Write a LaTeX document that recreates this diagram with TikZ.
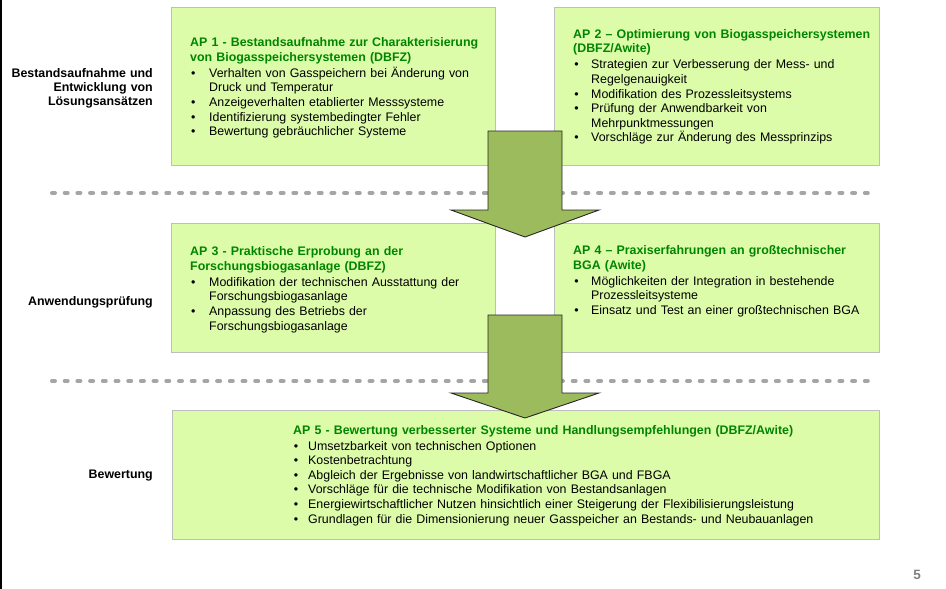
\documentclass[tikz,border=0pt]{standalone}
\usepackage{fontspec}
\setmainfont{Liberation Sans}
\usepackage{xcolor}
\usepackage{tikz}
\usetikzlibrary{positioning}

\definecolor{boxfill}{RGB}{221,252,170}
\definecolor{boxline}{RGB}{190,190,190}
\definecolor{titlegreen}{RGB}{0,133,0}
\definecolor{arrowfill}{RGB}{156,187,92}
\definecolor{dashgray}{RGB}{165,165,165}
\definecolor{pagegray}{RGB}{128,128,128}

\newcommand{\aptitle}[1]{{\bfseries\color{titlegreen}#1\par}}
\newenvironment{apitems}[2]{\begin{list}{\textbullet}{\setlength{\leftmargin}{#1}\setlength{\labelwidth}{5pt}\setlength{\labelsep}{#2}\setlength{\itemsep}{0pt}\setlength{\parsep}{0pt}\setlength{\topsep}{1.5pt}\setlength{\partopsep}{0pt}}}{\end{list}}

\begin{document}
\begin{tikzpicture}[x=1pt, y=-1pt,
    every node/.style={font=\fontsize{12.4}{14.6}\selectfont},
    apbox/.style={draw=boxline, fill=boxfill, line width=1pt, rectangle, anchor=north west, inner sep=0pt},
    aptext/.style={anchor=base west, inner sep=0pt, text width=#1, align=left},
    phase/.style={font=\fontsize{12.4}{14.3}\selectfont\bfseries, anchor=base east, inner sep=0pt, text width=150, align=right},
    sepline/.style={draw=dashgray, line width=4pt, line cap=round, dash pattern=on 3pt off 9.7pt},
    bigarrow/.style={draw=black!85, fill=arrowfill, line width=0.9pt, line join=miter}]
    \useasboundingbox (0,0) rectangle (946,589);
    \draw [line width=1.5pt] (1,0) -- (1,589);

    % work packages
    \node [apbox, minimum width=324, minimum height=158] (ap1) at (171,7) {};
    \node [apbox, minimum width=325, minimum height=158] (ap2) at (554,7) {};
    \node [apbox, minimum width=324, minimum height=129] (ap3) at (171,223) {};
    \node [apbox, minimum width=325, minimum height=129] (ap4) at (554,223) {};
    \node [apbox, minimum width=707, minimum height=129] (ap5) at (172,410) {};

    \node [aptext=300] (ap1text) at (190,46.6) {\aptitle{AP 1 - Bestandsaufnahme zur Charakterisierung\newline von Biogasspeichersystemen (DBFZ)}
        \begin{apitems}{19pt}{13.8pt}
        \item Verhalten von Gasspeichern bei Änderung von\newline Druck und Temperatur
        \item Anzeigeverhalten etablierter Messsysteme
        \item Identifizierung systembedingter Fehler
        \item Bewertung gebräuchlicher Systeme
        \end{apitems}};
    \node [aptext=300] (ap2text) at (573,38.2) {\aptitle{AP 2 -- Optimierung von Biogasspeichersystemen\newline (DBFZ/Awite)}
        \begin{apitems}{18pt}{12.4pt}
        \item Strategien zur Verbesserung der Mess- und\newline Regelgenauigkeit
        \item Modifikation des Prozessleitsystems
        \item Prüfung der Anwendbarkeit von\newline Mehrpunktmessungen
        \item Vorschläge zur Änderung des Messprinzips
        \end{apitems}};
    \node [aptext=300] (ap3text) at (190,255.6) {\aptitle{AP 3 - Praktische Erprobung an der\newline Forschungsbiogasanlage (DBFZ)}
        \begin{apitems}{19pt}{13.8pt}
        \item Modifikation der technischen Ausstattung der\newline Forschungsbiogasanlage
        \item Anpassung des Betriebs der\newline Forschungsbiogasanlage
        \end{apitems}};
    \node [aptext=300] (ap4text) at (573,254.5) {\aptitle{AP 4 -- Praxiserfahrungen an großtechnischer\newline BGA (Awite)}
        \begin{apitems}{18pt}{12.4pt}
        \item Möglichkeiten der Integration in bestehende\newline Prozessleitsysteme
        \item Einsatz und Test an einer großtechnischen BGA
        \end{apitems}};
    \node [aptext=570] (ap5text) at (293,434) {\aptitle{AP 5 - Bewertung verbesserter Systeme und Handlungsempfehlungen (DBFZ/Awite)}
        \begin{apitems}{15pt}{10.1pt}
        \item Umsetzbarkeit von technischen Optionen
        \item Kostenbetrachtung
        \item Abgleich der Ergebnisse von landwirtschaftlicher BGA und FBGA
        \item Vorschläge für die technische Modifikation von Bestandsanlagen
        \item Energiewirtschaftlicher Nutzen hinsichtlich einer Steigerung der Flexibilisierungsleistung
        \item Grundlagen für die Dimensionierung neuer Gasspeicher an Bestands- und Neubauanlagen
        \end{apitems}};

    % phases
    \node [phase] (phase1) at (153,77.2) {Bestandsaufnahme und\\Entwicklung von\\Lösungsansätzen};
    \node [phase] (phase2) at (153,305.6) {Anwendungsprüfung};
    \node [phase] (phase3) at (153,478.5) {Bewertung};

    \draw [sepline] (52,193) -- (873,193);
    \draw [sepline] (52,381) -- (873,381);

    % arrows between the phases
    \draw [bigarrow] (488,131) -- (562,131) -- (562,210) -- (599,210) -- (525,237) -- (451,210) -- (488,210) -- cycle;
    \draw [bigarrow] (488,315) -- (562,315) -- (562,393) -- (599,393) -- (525,418) -- (451,393) -- (488,393) -- cycle;

    \node [font=\fontsize{13.5}{13.5}\selectfont\bfseries, text=pagegray] (pagenum) at (917,575) {5};
\end{tikzpicture}
\end{document}
